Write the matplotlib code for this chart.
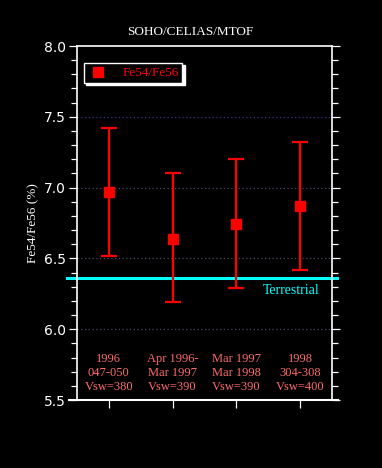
import matplotlib
matplotlib.use("Agg")
import matplotlib.pyplot as plt
import matplotlib.transforms as mtransforms
from matplotlib.lines import Line2D

# ── Data ─────────────────────────────────────────────────────────────────────
positions = [1, 2, 3, 4]
ratio     = [6.97, 6.64, 6.74, 6.87]
err_lo    = [6.52, 6.19, 6.29, 6.42]
err_hi    = [7.42, 7.10, 7.20, 7.32]
period_labels = [
    "1996\n047-050\nVsw=380",
    "Apr 1996-\nMar 1997\nVsw=390",
    "Mar 1997\nMar 1998\nVsw=390",
    "1998\n304-308\nVsw=400",
]
terrestrial = 6.365
grid_levels = [6.0, 6.5, 7.0, 7.5]

RED   = "#ff0000"
PINK  = "#ff6b6b"
CYAN  = "#00ffff"
SERIF = "Liberation Serif"

fig = plt.figure(figsize=(3.82, 4.68), dpi=100)
fig.patch.set_facecolor("black")
ax = fig.add_axes([77 / 382, 68 / 468, 255 / 382, 354 / 468])
ax.set_facecolor("black")

ax.set_xlim(0.5, 4.5)
ax.set_ylim(5.5, 8.0)

# grid lines
for g in grid_levels:
    col = "#35358a" if g == 7.5 else "#4a4a66"
    ax.axhline(g, color=col, lw=0.9, ls=(0, (1, 2)), zorder=1)

# terrestrial line, sticks out a bit past both spines
trans = mtransforms.blended_transform_factory(ax.transAxes, ax.transData)
ax.plot([-0.04, 1.02], [terrestrial, terrestrial], color=CYAN, lw=2.2,
        transform=trans, clip_on=False, zorder=2)
ax.text(3.41, terrestrial - 0.045, "Terrestrial", color=CYAN, fontsize=10,
        family=SERIF, ha="left", va="top")

# data with error bars
yerr = [[r - lo for r, lo in zip(ratio, err_lo)],
        [hi - r for r, hi in zip(ratio, err_hi)]]
ax.errorbar(positions, ratio, yerr=yerr, fmt="s", color=RED, ms=6.5,
            elinewidth=1.6, capsize=6, capthick=1.6, zorder=4)

# period annotations
for x, lab in zip(positions, period_labels):
    ax.text(x, 5.69, lab, color=PINK, fontsize=9, family=SERIF,
            ha="center", va="center", linespacing=1.25)

# spines / ticks
for s in ax.spines.values():
    s.set_color("white")
    s.set_linewidth(1.2)
ax.plot([-0.03, 1.025], [0, 0], color="white", lw=1.5,
        transform=ax.transAxes, clip_on=False, zorder=5)

ax.set_xticks(positions)
ax.set_xticklabels([])
ax.set_yticks([5.5, 6.0, 6.5, 7.0, 7.5, 8.0])
ax.set_yticklabels(["5.5", "6.0", "6.5", "7.0", "7.5", "8.0"])
ax.set_yticks([5.5 + 0.1 * i for i in range(26)], minor=True)
ax.tick_params(axis="both", which="both", direction="out", colors="white",
               labelsize=10, width=0.9)
ax.tick_params(axis="x", length=6)
ax.tick_params(axis="y", which="major", length=6, right=True)
ax.tick_params(axis="y", which="minor", length=4, right=True)
ax.tick_params(axis="y", pad=2)

ax.set_ylabel("Fe54/Fe56 (%)", color="white", fontsize=9.5, family=SERIF,
              labelpad=3)

fig.text(190 / 382, 1 - 32 / 468, "SOHO/CELIAS/MTOF", color="white",
         fontsize=9.5, family=SERIF, ha="center", va="center")

# legend box with white frame and shadow
handle = Line2D([], [], marker="s", color=RED, ls="none", ms=6.5)
leg = ax.legend([handle], ["Fe54/Fe56"], loc="upper left",
                bbox_to_anchor=(0.027, 0.952), borderaxespad=0,
                frameon=True, fancybox=False,
                shadow={"color": "white", "alpha": 1.0, "ox": 1.5, "oy": -1.5},
                prop={"family": SERIF, "size": 9.5},
                handletextpad=1.0, borderpad=0.3, handlelength=1.6)
leg.get_frame().set_facecolor("black")
leg.get_frame().set_edgecolor("white")
leg.get_frame().set_linewidth(1.0)
for t in leg.get_texts():
    t.set_color(RED)

fig.savefig("out.png", dpi=100, facecolor=fig.get_facecolor())
